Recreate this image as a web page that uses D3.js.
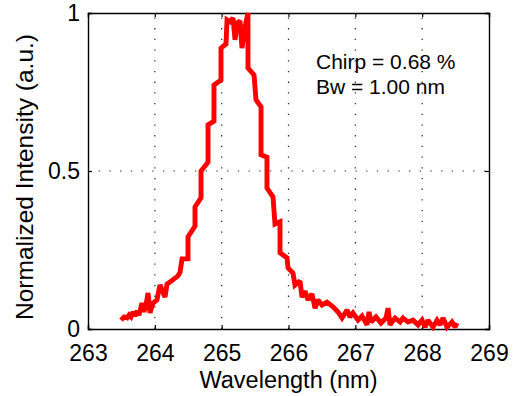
<!DOCTYPE html>
<html>
<head>
<meta charset="utf-8">
<script src="https://cdnjs.cloudflare.com/ajax/libs/d3/7.8.5/d3.min.js"></script>
<style>
	body { margin: 0; background: #fff; }
	svg { display: block; font-family: "Liberation Sans", Arial, sans-serif; }
</style>
</head>
<body>
<script>
	// spectrum
	var wavelength = [263.494, 263.539, 263.584, 263.614, 263.643, 263.673, 263.703, 263.733, 263.763, 263.808,
		263.838, 263.868, 263.898, 263.928, 263.973, 264.032, 264.077, 264.122, 264.152, 264.182,
		264.227, 264.302, 264.347, 264.377, 264.407, 264.496, 264.496, 264.601, 264.601, 264.691,
		264.691, 264.796, 264.796, 264.885, 264.885, 264.990, 264.990, 265.065, 265.080, 265.125,
		265.170, 265.200, 265.230, 265.274, 265.304, 265.349, 265.394, 265.394, 265.484, 265.514,
		265.589, 265.589, 265.678, 265.678, 265.768, 265.798, 265.873, 265.873, 265.978, 265.993,
		266.067, 266.097, 266.172, 266.202, 266.247, 266.292, 266.352, 266.397, 266.442, 266.501,
		266.576, 266.666, 266.741, 266.801, 266.876, 266.920, 266.965, 267.040, 267.100, 267.175,
		267.205, 267.235, 267.309, 267.384, 267.459, 267.489, 267.519, 267.594, 267.669, 267.713,
		267.788, 267.863, 267.938, 267.998, 268.043, 268.087, 268.162, 268.222, 268.267, 268.312,
		268.372, 268.446, 268.491, 268.521];
	var intensity = [0.028, 0.038, 0.035, 0.044, 0.038, 0.054, 0.041, 0.057, 0.044, 0.082,
		0.054, 0.076, 0.114, 0.051, 0.082, 0.092, 0.139, 0.117, 0.101, 0.142,
		0.149, 0.161, 0.168, 0.180, 0.222, 0.222, 0.291, 0.326, 0.386, 0.415,
		0.500, 0.528, 0.646, 0.658, 0.772, 0.788, 0.889, 0.902, 0.978, 0.972,
		0.984, 0.915, 0.968, 0.975, 0.889, 0.956, 1.000, 0.826, 0.804, 0.725,
		0.703, 0.551, 0.544, 0.446, 0.418, 0.332, 0.339, 0.241, 0.225, 0.193,
		0.177, 0.139, 0.152, 0.101, 0.120, 0.092, 0.111, 0.066, 0.092, 0.076,
		0.085, 0.070, 0.054, 0.035, 0.060, 0.038, 0.051, 0.028, 0.041, 0.013,
		0.054, 0.022, 0.038, 0.019, 0.035, 0.066, 0.013, 0.035, 0.022, 0.035,
		0.022, 0.028, 0.013, 0.028, 0.006, 0.028, 0.006, 0.028, 0.013, 0.035,
		0.006, 0.022, 0.006, 0.019];
	var xTicks = [263, 264, 265, 266, 267, 268, 269];
	var yTicks = [0, 0.5, 1];
	var notes = ["Chirp = 0.68 %", "Bw = 1.00 nm"];

	var W = 516, H = 396;
	var pl = 88, pr = 489, pt = 13, pb = 329;

	var svg = d3.select("body").
	append("svg").
	attr("width", W).
	attr("height", H);

	var x = d3.scaleLinear().domain([263, 269]).range([pl, pr]);
	var y = d3.scaleLinear().domain([0, 1]).range([pb, pt]);

	// dotted grid
	svg.append("g").
	selectAll("line").
	data(xTicks.slice(1, -1)).
	enter().append("line").
	attr("x1", function (d) {return x(d);}).
	attr("x2", function (d) {return x(d);}).
	attr("y1", pb).
	attr("y2", pt).
	attr("stroke", "#222").
	attr("stroke-width", 1.2).
	attr("stroke-dasharray", "1.3,9.4");

	svg.append("g").
	selectAll("line").
	data(yTicks.slice(1, -1)).
	enter().append("line").
	attr("x1", pl).
	attr("x2", pr).
	attr("y1", function (d) {return y(d);}).
	attr("y2", function (d) {return y(d);}).
	attr("stroke", "#222").
	attr("stroke-width", 1.2).
	attr("stroke-dasharray", "1.3,9.4");

	// axes, ticks pointing in
	var xAxis = d3.axisBottom(x).tickValues(xTicks).tickSize(-4).tickPadding(10).tickFormat(d3.format("d"));
	var yAxis = d3.axisLeft(y).tickValues(yTicks).tickSize(-4).tickPadding(8).tickFormat(d3.format("~g"));

	var gx = svg.append("g").
	attr("transform", "translate(0," + pb + ")").
	call(xAxis);
	gx.selectAll("text").attr("dy", "0.95em");

	svg.append("g").
	attr("transform", "translate(" + pl + ",0)").
	call(yAxis);

	svg.append("g").
	attr("transform", "translate(0," + pt + ")").
	call(d3.axisTop(x).tickValues(xTicks).tickSize(-4).tickFormat(""));
	svg.append("g").
	attr("transform", "translate(" + pr + ",0)").
	call(d3.axisRight(y).tickValues(yTicks).tickSize(-4).tickFormat(""));

	svg.selectAll(".domain").attr("stroke", "#000").attr("stroke-width", 1.4);
	svg.selectAll(".tick line").attr("stroke", "#000").attr("stroke-width", 1.2);
	svg.selectAll(".tick text").
	attr("fill", "#000").
	style("font-family", "Liberation Sans, Arial, sans-serif").
	style("font-size", "23px");

	// spectrum
	var pts = wavelength.map(function (d, i) {return [d, intensity[i]];});
	var line = d3.line().
	x(function (d) {return x(d[0]);}).
	y(function (d) {return y(d[1]);});

	svg.append("path").
	datum(pts).
	attr("d", line).
	attr("fill", "none").
	attr("stroke", "#ff0000").
	attr("stroke-width", 4.9).
	attr("stroke-linejoin", "miter").
	attr("stroke-miterlimit", 2);

	// labels
	svg.append("text").
	attr("x", (pl + pr) / 2).
	attr("y", 388).
	attr("text-anchor", "middle").
	style("font-size", "23.5px").
	text("Wavelength (nm)");

	svg.append("text").
	attr("transform", "translate(33," + 177 + ") rotate(-90)").
	attr("text-anchor", "middle").
	style("font-size", "24.5px").
	text("Normalized Intensity (a.u.)");

	svg.selectAll(".note").
	data(notes).
	enter().append("text").
	attr("class", "note").
	attr("x", 316).
	attr("y", function (d, i) {return 69 + i * 25;}).
	style("font-size", "21px").
	text(function (d) {return d;});
</script>
</body>
</html>
